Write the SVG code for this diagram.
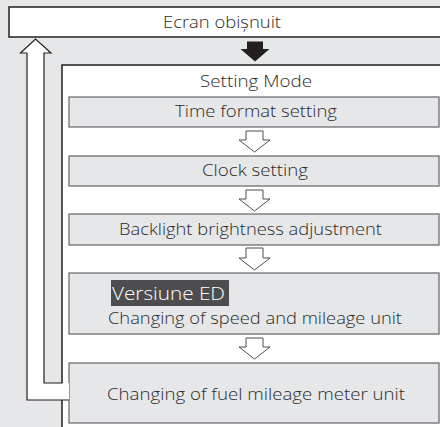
<svg xmlns="http://www.w3.org/2000/svg" width="440" height="427" viewBox="0 0 440 427">
<style>
.t{font-family:"Open Sans","Noto Sans","Liberation Sans",sans-serif;font-size:16.5px;font-weight:300;fill:#2b2b2b}
.outer{fill:#fff;stroke:#231f20;stroke-width:1.5}
.step{fill:#e6e7e8;stroke:#6d6e71;stroke-width:1.3}
.harrow{fill:#fff;stroke:#4d4d4f;stroke-width:1}
</style>
<rect width="440" height="427" fill="#e6e7e8"/>
<g id="ecran">
<rect class="outer" x="9" y="7" width="440" height="30"/>
<text class="t" x="163" y="27.5" textLength="118" lengthAdjust="spacingAndGlyphs">Ecran obișnuit</text>
</g>
<g id="setting-mode">
<rect class="outer" x="62" y="65" width="400" height="380"/>
<text class="t" x="200" y="87" textLength="112" lengthAdjust="spacingAndGlyphs">Setting Mode</text>
</g>
<g id="time-format">
<rect class="step" x="69" y="97" width="370" height="30"/>
<text class="t" x="175" y="117" textLength="162" lengthAdjust="spacingAndGlyphs">Time format setting</text>
</g>
<g id="clock">
<rect class="step" x="69" y="156" width="370" height="30"/>
<text class="t" x="202" y="176" textLength="106" lengthAdjust="spacingAndGlyphs">Clock setting</text>
</g>
<g id="backlight">
<rect class="step" x="69" y="214" width="370" height="31"/>
<text class="t" x="119" y="235" textLength="263" lengthAdjust="spacingAndGlyphs">Backlight brightness adjustment</text>
</g>
<g id="speed-unit">
<rect class="step" x="69" y="273" width="370" height="61"/>
<rect x="111" y="280" width="118" height="26" fill="#4d4d4f"/>
<text class="t" x="112" y="300" textLength="113" lengthAdjust="spacingAndGlyphs" style="fill:#fff;font-size:17.5px">Versiune ED</text>
<text class="t" x="108" y="324" textLength="294" lengthAdjust="spacingAndGlyphs">Changing of speed and mileage unit</text>
</g>
<g id="fuel-unit">
<rect class="step" x="69" y="363" width="370" height="60"/>
<text class="t" x="107" y="400" textLength="298" lengthAdjust="spacingAndGlyphs">Changing of fuel mileage meter unit</text>
</g>
<g id="connectors">
<polygon points="247,41.5 263,41.5 263,49 269.5,49 255,61.5 240.5,49 247,49" fill="#231f20"/>
<polygon class="harrow" points="246,131 263,131 263,140 270,140 254.5,152 239,140 246,140"/>
<polygon class="harrow" points="246,190 263,190 263,199 270,199 254.5,211 239,199 246,199"/>
<polygon class="harrow" points="246,248 263,248 263,258 270,258 254.5,270 239,258 246,258"/>
<polygon class="harrow" points="246,338 263,338 263,347 270,347 254.5,359 239,347 246,347"/>
<polygon points="27,400 27,53 20.5,53 35.5,39 51,53 44,53 44,383 69,383 69,400" fill="#fff"/>
<polyline points="69,400 27,400 27,53 20.5,53 35.5,39 51,53 44,53 44,383 62.5,383" fill="none" stroke="#231f20" stroke-width="1.2"/>
</g>
</svg>
